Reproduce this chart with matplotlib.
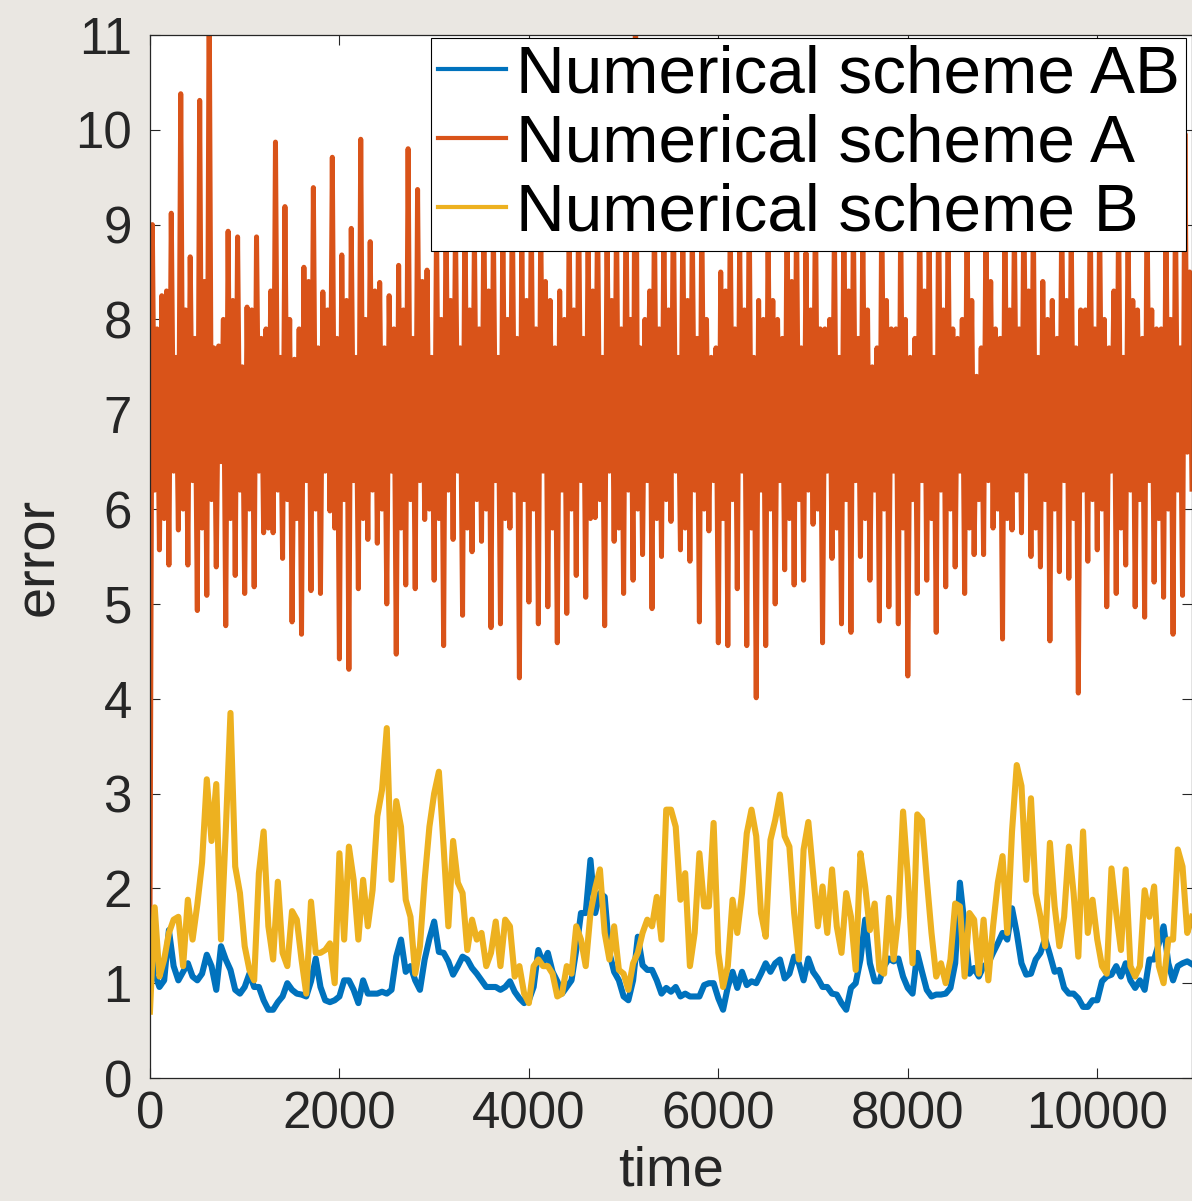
import numpy as np
import matplotlib

matplotlib.use("Agg")
import matplotlib.pyplot as plt

plt.rcParams["font.family"] = ["Liberation Sans", "DejaVu Sans"]

# sampling times for AB and B (every 50 time units, 0 .. 11000)
time = np.arange(0, 11001, 50)

# scheme AB (blue)
err_ab = [
    1.7, 1.1, 0.96, 1.03, 1.56, 1.18, 1.03, 1.12, 1.21, 1.07,
    1.03, 1.1, 1.3, 1.18, 0.93, 1.39, 1.25, 1.14, 0.93, 0.89,
    0.96, 1.1, 0.96, 0.96, 0.82, 0.72, 0.72, 0.8, 0.86, 1.0,
    0.93, 0.89, 0.88, 0.86, 1.02, 1.26, 0.96, 0.82, 0.8, 0.82,
    0.86, 1.03, 1.03, 0.93, 0.79, 1.03, 0.89, 0.89, 0.89, 0.91,
    0.89, 0.93, 1.28, 1.46, 1.12, 1.18, 1.03, 0.93, 1.25, 1.47,
    1.65, 1.33, 1.32, 1.23, 1.09, 1.18, 1.28, 1.25, 1.16, 1.1,
    1.03, 0.96, 0.96, 0.96, 0.93, 0.96, 1.02, 0.91, 0.84, 0.79,
    0.82, 0.96, 1.35, 1.21, 1.32, 1.12, 1.02, 0.89, 0.96, 1.03,
    1.35, 1.74, 1.74, 2.3, 1.74, 1.95, 1.91, 1.32, 1.12, 1.03,
    0.86, 0.82, 1.03, 1.49, 1.19, 1.14, 1.14, 1.03, 0.89, 0.95,
    0.91, 0.96, 0.86, 0.89, 0.86, 0.86, 0.86, 0.98, 1.0, 1.0,
    0.84, 0.72, 0.96, 1.12, 0.95, 1.12, 0.98, 1.02, 1.0, 1.1,
    1.21, 1.12, 1.21, 1.25, 1.05, 1.1, 1.28, 1.21, 1.03, 1.26,
    1.12, 1.05, 0.96, 0.96, 0.89, 0.88, 0.79, 0.72, 0.95, 1.0,
    1.25, 1.67, 1.21, 1.02, 1.02, 1.18, 1.26, 1.23, 1.26, 1.07,
    0.95, 0.89, 1.32, 1.12, 0.93, 0.86, 0.88, 0.88, 0.89, 0.95,
    1.21, 2.06, 1.6, 1.1, 1.16, 1.07, 1.18, 1.21, 1.32, 1.42,
    1.53, 1.46, 1.79, 1.53, 1.21, 1.09, 1.1, 1.25, 1.32, 1.47,
    1.3, 1.12, 1.14, 0.95, 0.89, 0.89, 0.84, 0.75, 0.75, 0.82,
    0.82, 1.02, 1.07, 1.09, 1.18, 1.07, 1.21, 1.03, 0.95, 1.03,
    0.93, 1.25, 1.25, 1.42, 1.6, 1.21, 1.03, 1.18, 1.21, 1.23,
    1.2,
]

# scheme B (yellow)
err_b = [
    0.7, 1.8, 1.07, 1.25, 1.53, 1.67, 1.70, 1.18, 1.88, 1.46,
    1.83, 2.27, 3.15, 2.5, 3.1, 1.46, 2.6, 3.85, 2.23, 1.95,
    1.39, 1.14, 1.03, 2.16, 2.6, 1.6, 1.25, 2.07, 1.32, 1.18,
    1.76, 1.67, 1.25, 0.89, 1.86, 1.32, 1.32, 1.35, 1.42, 1.0,
    2.37, 1.46, 2.44, 2.09, 1.46, 2.09, 1.6, 1.98, 2.76, 3.04,
    3.69, 2.09, 2.92, 2.65, 1.88, 1.7, 1.1, 1.39, 2.09, 2.65,
    3.0, 3.23, 2.44, 1.6, 2.5, 2.06, 1.95, 1.35, 1.67, 1.46,
    1.53, 1.18, 1.32, 1.65, 1.18, 1.67, 1.6, 1.07, 1.18, 0.89,
    0.79, 1.18, 1.25, 1.18, 1.18, 1.1, 0.86, 0.89, 1.18, 1.1,
    1.6, 1.46, 1.18, 1.74, 2.0, 2.2, 1.53, 1.25, 1.6, 1.14,
    1.1, 0.93, 1.21, 1.32, 1.53, 1.67, 1.6, 1.91, 1.46, 2.83,
    2.83, 2.65, 1.88, 2.16, 1.18, 1.53, 2.37, 1.81, 1.81, 2.69,
    1.32, 0.96, 1.18, 1.88, 1.53, 1.95, 2.58, 2.83, 2.55, 1.74,
    1.49, 2.51, 2.72, 2.99, 2.55, 2.44, 1.74, 1.25, 2.41, 2.7,
    2.16, 1.6, 2.02, 1.53, 2.2, 1.6, 1.32, 1.95, 1.7, 1.14,
    2.37, 2.02, 1.56, 1.84, 1.14, 1.1, 1.9, 1.25, 1.7, 2.81,
    2.13, 1.21, 2.78, 2.72, 2.1, 1.53, 1.07, 1.21, 1.0, 1.25,
    1.84, 1.81, 1.07, 1.74, 1.67, 1.1, 1.67, 1.03, 1.6, 2.06,
    2.34, 1.53, 2.6, 3.3, 3.08, 2.09, 2.95, 1.95, 1.7, 1.39,
    2.48, 1.81, 1.39, 1.7, 2.44, 1.95, 1.28, 2.6, 1.53, 1.88,
    1.46, 1.18, 1.1, 2.21, 1.74, 1.35, 2.2, 1.18, 1.07, 1.18,
    1.98, 1.7, 2.02, 1.18, 1.0, 1.46, 1.46, 2.41, 2.23, 1.53,
    1.7,
]

# scheme A (red): value at t=0, then per 100 time units the peak, an inner
# trough, an inner peak and the trough (sampled every 25 time units)
red_start = 1.5
red_peaks = [
    9.0, 8.25, 9.12, 10.38, 8.66, 10.31, 11.5, 7.72, 8.93, 8.87,
    8.13, 8.87, 7.9, 9.87, 9.19, 7.58, 8.55, 9.39, 8.29, 9.71,
    8.68, 8.96, 9.9, 8.82, 8.39, 8.25, 8.57, 9.8, 9.37, 8.52,
    9.0, 9.2, 9.0, 9.3, 8.9, 9.2, 9.0, 9.1, 9.3, 8.9,
    9.2, 9.0, 8.2, 8.3, 9.1, 9.3, 9.0, 9.2, 9.0, 9.1,
    9.3, 11.5, 8.0, 9.2, 9.0, 9.3, 9.1, 9.0, 9.2, 7.6,
    8.5, 9.1, 8.8, 9.3, 8.2, 9.0, 8.0, 9.2, 9.1, 8.7,
    9.3, 7.9, 9.0, 9.2, 9.1, 9.0, 7.5, 9.3, 7.9, 9.1,
    7.6, 9.2, 9.0, 9.3, 9.1, 7.8, 9.2, 7.4, 9.1, 7.9,
    9.2, 9.0, 9.3, 9.1, 8.4, 8.2, 9.2, 9.0, 8.1, 9.3,
    9.1, 7.7, 9.2, 9.0, 8.1, 9.3, 7.9, 9.1, 9.2, 9.96,
]
red_inner_lo = [
    6.2, 5.9, 6.4, 6.0, 6.3, 5.8, 6.1, 6.5, 5.9, 6.2,
    6.0, 6.4, 5.8, 6.2, 6.1, 5.9, 6.3, 6.0, 6.4, 5.8,
    6.1, 6.3, 5.9, 6.2, 6.0, 6.4, 5.8, 6.1, 6.3, 6.0,
    5.9, 6.2, 6.4, 5.8, 6.1, 6.0, 6.3, 5.9, 6.2, 6.1,
    6.0, 6.4, 5.8, 6.2, 6.0, 6.3, 5.9, 6.1, 6.4, 5.8,
    6.2, 6.0, 6.3, 5.9, 6.1, 6.4, 5.8, 6.2, 6.0, 6.3,
    5.9, 6.1, 6.4, 5.8, 6.2, 6.0, 6.3, 5.9, 6.1, 6.2,
    6.0, 6.4, 5.8, 6.1, 6.3, 5.9, 6.2, 6.0, 6.4, 5.8,
    6.1, 6.3, 5.9, 6.2, 6.0, 6.4, 5.8, 6.1, 6.3, 6.0,
    5.9, 6.2, 6.4, 5.8, 6.1, 6.0, 6.3, 5.9, 6.2, 6.1,
    6.0, 6.4, 5.8, 6.2, 6.1, 6.3, 5.9, 6.0, 6.2, 6.6,
]
red_inner_hi = [
    7.9, 8.3, 7.6, 8.1, 7.8, 8.4, 7.7, 8.0, 8.2, 7.5,
    8.1, 7.8, 8.3, 7.6, 8.0, 7.9, 8.4, 7.7, 8.1, 7.8,
    8.2, 7.6, 8.0, 8.3, 7.7, 7.9, 8.1, 7.8, 8.4, 7.6,
    8.0, 8.2, 7.7, 8.1, 7.9, 8.3, 7.6, 8.0, 7.8, 8.2,
    7.9, 8.4, 7.7, 8.0, 8.1, 7.8, 8.3, 7.6, 8.2, 7.9,
    8.0, 7.7, 8.3, 7.9, 8.1, 7.6, 8.2, 7.8, 8.0, 7.7,
    8.3, 7.9, 8.1, 7.6, 8.0, 8.2, 7.8, 8.4, 7.7, 8.1,
    7.9, 8.0, 7.6, 8.3, 7.8, 8.1, 7.7, 8.2, 7.9, 8.0,
    7.8, 8.3, 7.6, 8.1, 7.9, 8.0, 8.2, 7.7, 8.4, 7.8,
    8.1, 7.9, 8.3, 7.6, 8.0, 7.8, 8.2, 7.7, 8.1, 7.9,
    8.0, 8.3, 7.6, 8.2, 7.8, 8.1, 7.9, 8.0, 7.7, 8.5,
]
red_troughs = [
    5.57, 5.41, 5.78, 5.41, 4.93, 5.09, 5.39, 4.77, 5.3, 5.11,
    5.18, 5.75, 5.75, 5.48, 4.81, 4.68, 5.14, 5.11, 5.98, 4.42,
    4.31, 5.16, 5.68, 5.64, 5.0, 4.47, 5.2, 5.16, 5.89, 5.25,
    4.56, 5.68, 4.88, 5.55, 5.66, 4.75, 4.79, 5.8, 4.22, 5.02,
    4.79, 4.97, 4.59, 4.9, 5.3, 5.07, 5.91, 4.77, 5.66, 5.11,
    5.25, 5.52, 4.95, 5.5, 5.87, 5.57, 5.45, 4.81, 5.77, 4.59,
    4.56, 5.16, 4.56, 4.01, 4.56, 5.0, 5.36, 5.2, 5.25, 5.84,
    4.59, 5.48, 4.79, 4.7, 5.5, 5.25, 4.82, 4.97, 4.79, 4.24,
    5.11, 5.25, 4.7, 5.18, 5.39, 5.11, 5.52, 5.52, 5.8, 4.63,
    5.78, 5.75, 5.5, 5.39, 4.61, 5.34, 5.27, 4.06, 5.45, 5.57,
    4.97, 5.11, 5.41, 4.97, 4.86, 5.23, 5.07, 4.68, 5.09, 6.21,
]

labels = ["Numerical scheme AB", "Numerical scheme A", "Numerical scheme B"]
colors = ["#0072BD", "#D95319", "#EDB120"]
x_ticks = [0, 2000, 4000, 6000, 8000, 10000]
y_ticks = list(range(0, 12))

BG = "#eae7e2"
INK = "#262626"

time_a = np.arange(0, 11001, 25)
err_a = np.concatenate([[red_start], np.column_stack(
    [red_peaks, red_inner_lo, red_inner_hi, red_troughs]).ravel()])

fig = plt.figure(figsize=(11.92, 12.01), dpi=100, facecolor=BG)
ax = fig.add_axes([0.1258, 0.1024, 0.8742, 0.8685])
ax.set_facecolor("white")

ax.plot(time, err_ab, color=colors[0], lw=4.4, label=labels[0])
ax.plot(time_a, err_a, color=colors[1], lw=3.6, label=labels[1])
ax.plot(time, err_b, color=colors[2], lw=4.4, label=labels[2])

ax.set_xlim(0, 11000)
ax.set_ylim(0, 11)
ax.set_xticks(x_ticks)
ax.set_yticks(y_ticks)
ax.tick_params(direction="in", length=7.5, width=0.8, top=True, right=True,
               labelsize=36.7, colors=INK)
ax.tick_params(axis="x", pad=9)
ax.tick_params(axis="y", pad=13)
for sp in ax.spines.values():
    sp.set_color(INK)
    sp.set_linewidth(0.9)

ax.set_xlabel("time", fontsize=40.3, color=INK, labelpad=4)
ax.set_ylabel("error", fontsize=40.3, color=INK, labelpad=7)

leg = ax.legend(loc="upper right", bbox_to_anchor=(0.9945, 0.997),
                borderaxespad=0, fontsize=48.6, handlelength=1.0,
                handletextpad=0.15, labelspacing=0.1, borderpad=0.1,
                fancybox=False, edgecolor="black", framealpha=1)
leg.get_frame().set_linewidth(0.8)
for h in leg.get_lines():
    h.set_linewidth(3.0)

fig.savefig("out.png", dpi=100, facecolor=fig.get_facecolor())
